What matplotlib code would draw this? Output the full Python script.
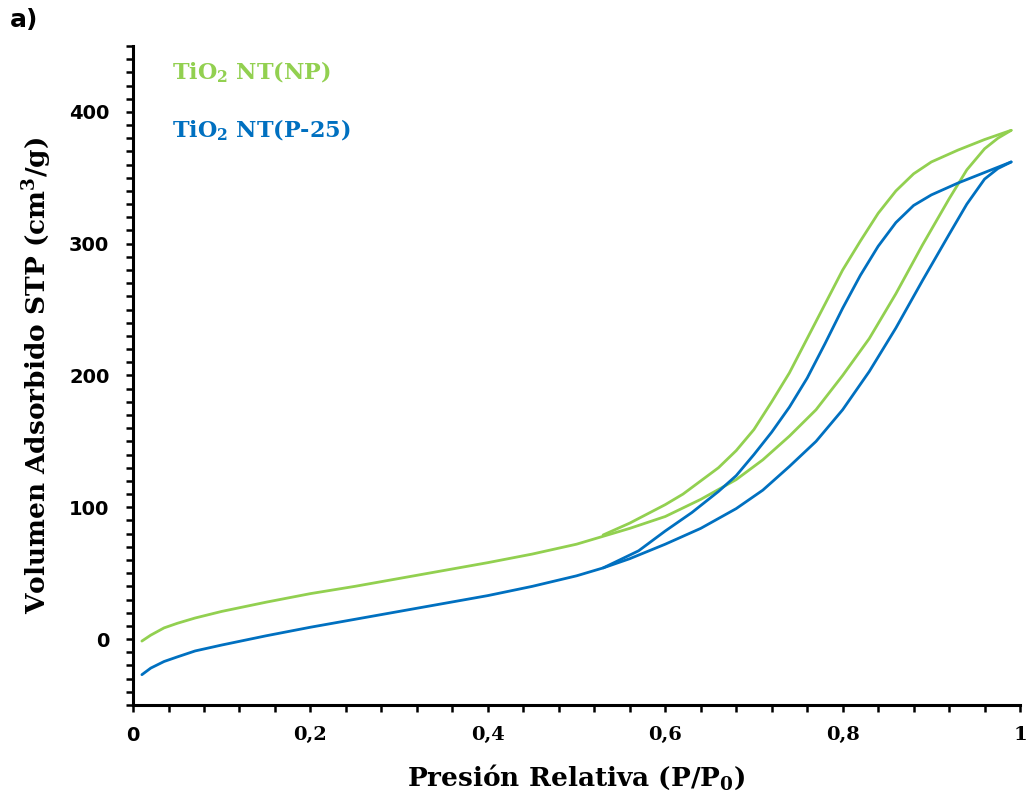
import matplotlib
matplotlib.use('Agg')
import matplotlib.pyplot as plt
from matplotlib.ticker import MultipleLocator, FuncFormatter

plt.rcParams['mathtext.fontset'] = 'custom'
plt.rcParams['mathtext.rm'] = 'DejaVu Serif:bold'
plt.rcParams['mathtext.it'] = 'DejaVu Serif:bold'
plt.rcParams['mathtext.bf'] = 'DejaVu Serif:bold'

green = '#92d050'
blue = '#0070c0'

# TiO2 NT(NP) - adsorcion
np_ads_x = [0.01, 0.02, 0.035, 0.05, 0.07, 0.10, 0.15, 0.20, 0.25, 0.30, 0.35,
            0.40, 0.45, 0.50, 0.53, 0.56, 0.60, 0.64, 0.68, 0.71, 0.74, 0.77,
            0.80, 0.83, 0.86, 0.89, 0.92, 0.94, 0.96, 0.975, 0.99]
np_ads_y = [-1.5, 3, 8.5, 12, 16, 21, 28, 34.5, 40, 46, 52,
            58, 64.5, 72, 78, 84, 93, 106, 121, 136, 154, 174,
            200, 228, 262, 299, 334, 356, 372, 380, 386]
# TiO2 NT(NP) - desorcion
np_des_x = [0.99, 0.96, 0.93, 0.90, 0.88, 0.86, 0.84, 0.82, 0.80, 0.78, 0.76,
            0.74, 0.72, 0.70, 0.68, 0.66, 0.64, 0.62, 0.60, 0.58, 0.56, 0.53]
np_des_y = [386, 379, 371, 362, 353, 340, 323, 302, 280, 254, 228,
            202, 180, 159, 143, 130, 120, 110, 102, 95, 88, 79]

# TiO2 NT(P-25) - adsorcion
p25_ads_x = [0.01, 0.02, 0.035, 0.05, 0.07, 0.10, 0.15, 0.20, 0.25, 0.30, 0.35,
             0.40, 0.45, 0.50, 0.53, 0.56, 0.60, 0.64, 0.68, 0.71, 0.74, 0.77,
             0.80, 0.83, 0.86, 0.89, 0.92, 0.94, 0.96, 0.975, 0.99]
p25_ads_y = [-27, -22, -17, -13.5, -9, -4.5, 2.5, 9, 15, 21, 27,
             33, 40, 48, 54, 61, 72, 84, 99, 113, 131, 150,
             174, 203, 236, 272, 307, 330, 349, 357, 362]
# TiO2 NT(P-25) - desorcion
p25_des_x = [0.99, 0.96, 0.93, 0.90, 0.88, 0.86, 0.84, 0.82, 0.80, 0.78, 0.76,
             0.74, 0.72, 0.70, 0.68, 0.66, 0.63, 0.60, 0.57, 0.55, 0.53]
p25_des_y = [362, 354, 346, 337, 329, 316, 298, 276, 251, 224, 198,
             176, 157, 140, 124, 112, 96, 82, 67, 60.5, 54]

fig = plt.figure(figsize=(10.36, 8), dpi=100)
ax = fig.add_axes([0.1284, 0.11875, 0.8562, 0.8238])

lw = 2.0
ax.plot(np_ads_x, np_ads_y, color=green, lw=lw, solid_capstyle='round')
ax.plot(np_des_x, np_des_y, color=green, lw=lw, solid_capstyle='round')
ax.plot(p25_ads_x, p25_ads_y, color=blue, lw=lw, solid_capstyle='round')
ax.plot(p25_des_x, p25_des_y, color=blue, lw=lw, solid_capstyle='round')

ax.set_xlim(0, 1)
ax.set_ylim(-50, 450)

for s in ['top', 'right']:
    ax.spines[s].set_visible(False)
for s in ['left', 'bottom']:
    ax.spines[s].set_linewidth(2.2)
    ax.spines[s].set_color('black')

ax.xaxis.set_major_locator(MultipleLocator(0.2))
ax.xaxis.set_minor_locator(MultipleLocator(0.04))
ax.yaxis.set_major_locator(MultipleLocator(100))
ax.yaxis.set_minor_locator(MultipleLocator(10))
ax.set_yticks([0, 100, 200, 300, 400])
ax.xaxis.set_major_formatter(FuncFormatter(
    lambda v, p: '0' if abs(v) < 1e-9 else ('1' if abs(v - 1) < 1e-9 else f'{v:.1f}'.replace('.', ','))))

ax.tick_params(which='both', direction='out', length=5, width=1.8, color='black')
ax.tick_params(axis='y', which='major', pad=12, labelsize=14)
ax.tick_params(axis='x', which='major', pad=10, labelsize=14)

for t in ax.get_yticklabels():
    t.set_fontfamily('DejaVu Sans')
    t.set_fontweight('bold')
for i, t in enumerate(ax.get_xticklabels()):
    t.set_fontfamily('DejaVu Sans' if i < 2 else 'DejaVu Serif')
    t.set_fontweight('bold')

ax.set_xlabel('Presión Relativa (P/P$_0$)', fontsize=19, fontfamily='DejaVu Serif',
              fontweight='bold', labelpad=13)
ax.set_ylabel('Volumen Adsorbido STP (cm$^3$/g)', fontsize=19, fontfamily='DejaVu Serif',
              fontweight='bold', labelpad=11)

ax.text(0.044, 430, 'TiO$_2$ NT(NP)', color=green, fontsize=16,
        fontfamily='DejaVu Serif', fontweight='bold', va='center')
ax.text(0.044, 386, 'TiO$_2$ NT(P-25)', color=blue, fontsize=16,
        fontfamily='DejaVu Serif', fontweight='bold', va='center')

fig.text(0.01, 0.99, 'a)', fontsize=18, fontfamily='DejaVu Sans', fontweight='bold',
         va='top', ha='left')

fig.savefig('out.png', dpi=100, facecolor='white')
